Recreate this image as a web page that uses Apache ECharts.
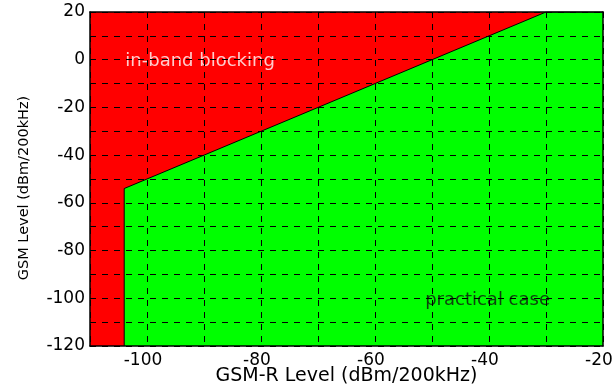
<!DOCTYPE html>
<html><head><meta charset="utf-8">
<script src="https://cdn.jsdelivr.net/npm/echarts@6/dist/echarts.min.js"></script>
<style>html,body{margin:0;padding:0;background:#fff}#c{width:614px;height:387px}</style>
</head><body><div id="c"></div>
<script>
// Axis ranges and ticks
const xMin = -110, xMax = -20, xStep = 10;
const yMin = -120, yMax = 20, yStep = 10;
const xTickLabels = [-100, -80, -60, -40, -20];
const yTickLabels = [-120, -100, -80, -60, -40, -20, 0, 20];
// Boundary between the two regions (GSM-R level vs GSM level)
const boundaryX = [-104, -104, -30, -20];
const boundaryY = [-120, -54, 20, 20];
// Region annotations
const regionNames = ['in-band blocking', 'practical case'];
const regionNameX = [-103.8, -51.2];
const regionNameY = [0, -100];
const regionNameColor = ['#ffffff', '#111111'];

const FONT = 'DejaVu Sans';
const chart = echarts.init(document.getElementById('c'), null, {renderer: 'canvas'});
const edge = {show: true, onZero: false, lineStyle: {color: '#000', width: 1.5}};
const grid = {type: [6, 6], color: '#000', width: 1};

chart.setOption({
  animation: false,
  backgroundColor: '#ffffff',
  grid: {left: 90, right: 11, top: 12, bottom: 41, show: true, backgroundColor: '#ff0000', borderWidth: 0,
         containLabel: false, outerBoundsMode: 'none'},
  xAxis: [{
    type: 'value', min: xMin, max: xMax, interval: xStep, z: 10,
    axisLine: edge, axisTick: {show: false},
    splitLine: {show: true, lineStyle: grid},
    axisLabel: {
      fontFamily: FONT, fontSize: 17, color: '#000', margin: 6, padding: [0, 8, 0, 0],
      formatter: v => xTickLabels.includes(v) ? String(v) : ''
    },
    name: 'GSM-R Level (dBm/200kHz)', nameLocation: 'middle', nameGap: 21, nameMoveOverlap: false,
    nameTextStyle: {fontFamily: FONT, fontSize: 19, color: '#000'}
  }, {
    type: 'value', position: 'top', min: xMin, max: xMax, z: 10,
    axisLine: edge, axisTick: {show: false}, axisLabel: {show: false}, splitLine: {show: false}
  }],
  yAxis: [{
    type: 'value', min: yMin, max: yMax, interval: yStep, z: 10,
    axisLine: edge, axisTick: {show: false},
    splitLine: {show: true, lineStyle: grid},
    axisLabel: {
      fontFamily: FONT, fontSize: 17, color: '#000', margin: 5,
      formatter: v => yTickLabels.includes(v) ? String(v) : ''
    },
    name: 'GSM Level (dBm/200kHz)', nameLocation: 'middle', nameGap: 58, nameMoveOverlap: false,
    nameTextStyle: {fontFamily: FONT, fontSize: 14.5, color: '#000', padding: [0, 18, 0, 0]}
  }, {
    type: 'value', position: 'right', min: yMin, max: yMax, z: 10,
    axisLine: edge, axisTick: {show: false}, axisLabel: {show: false}, splitLine: {show: false}
  }],
  series: [{
    type: 'line',
    data: boundaryX.map((x, i) => [x, boundaryY[i]]),
    symbol: 'none',
    lineStyle: {color: '#000', width: 1},
    areaStyle: {color: '#00ff00', opacity: 1, origin: 'start'},
    z: 2
  }, {
    type: 'scatter',
    symbolSize: 0,
    data: regionNames.map((n, i) => ({
      name: n, value: [regionNameX[i], regionNameY[i]],
      label: {color: regionNameColor[i]}
    })),
    label: {show: true, position: 'right', distance: 0, offset: [0, 2], formatter: '{b}', fontFamily: FONT, fontSize: 18},
    z: 5
  }]
});
</script></body></html>
